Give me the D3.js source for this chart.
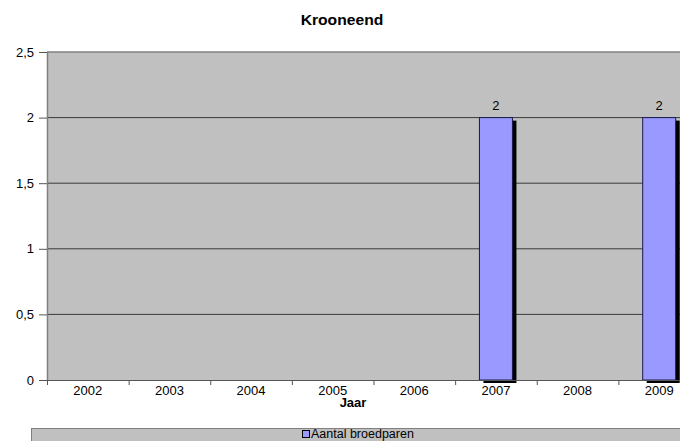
<!DOCTYPE html>
<html><head><meta charset="utf-8">
<script src="https://cdn.jsdelivr.net/npm/d3@7"></script>
<style>body{margin:0;background:#fff}svg{display:block}text{font-family:"Liberation Sans",Arial,sans-serif}</style>
</head><body>
<svg id="c" width="680" height="441"></svg>
<script>
const years = ["2002","2003","2004","2005","2006","2007","2008","2009"];
const values = [0,0,0,0,0,2,0,2];
const yTicks = [0,0.5,1,1.5,2,2.5];
const title = "Krooneend";
const xTitle = "Jaar";
const seriesName = "Aantal broedparen";

const svg = d3.select("#c");
const L = 47, T = 52, B = 380, R = 700;
const x = d3.scaleBand().domain(years).range([L, R]).paddingInner(0).paddingOuter(0);
const y = d3.scaleLinear().domain([0, 2.5]).range([B, T]);
const fmt = v => String(v).replace(".", ",");

svg.append("rect").attr("x", L).attr("y", T).attr("width", R - L).attr("height", B - T).attr("fill", "#c0c0c0");

// gridlines
svg.append("g").selectAll("line").data(yTicks.filter(d => d > 0)).join("line")
  .attr("x1", L).attr("x2", R).attr("y1", d => y(d)).attr("y2", d => y(d))
  .attr("stroke", d => d === 2.5 ? "#808080" : "#3a3a3a").attr("stroke-width", d => d === 2.5 ? 1.5 : 1);

// left axis line
svg.append("line").attr("x1", L + 0.5).attr("x2", L + 0.5).attr("y1", T).attr("y2", B).attr("stroke", "#808080").attr("stroke-width", 1.5);

// y axis
const ya = d3.axisLeft(y).tickValues(yTicks).tickFormat(fmt).tickSize(8).tickPadding(5);
const yg = svg.append("g").attr("transform", `translate(${L},0)`).call(ya);
yg.select(".domain").remove();
yg.selectAll("line").attr("stroke", "#555");
yg.selectAll("text").attr("font-size", 13).attr("fill", "#000");

// bars with shadow
const bw = 33;
const bars = svg.append("g");
values.forEach((v, i) => {
  if (v <= 0) return;
  const cx = x(years[i]) + x.bandwidth() / 2;
  bars.append("rect").attr("x", cx - bw / 2 + 4).attr("y", y(v) + 3).attr("width", bw).attr("height", y(0) - y(v)).attr("fill", "#000");
  bars.append("rect").attr("x", cx - bw / 2).attr("y", y(v)).attr("width", bw).attr("height", y(0) - y(v))
    .attr("fill", "#9999ff").attr("stroke", "#1a1a4a").attr("stroke-width", 1);
  bars.append("text").attr("x", cx).attr("y", y(v) - 8).attr("text-anchor", "middle").attr("font-size", 13).text(fmt(v));
});

// x axis
svg.append("line").attr("x1", L).attr("x2", R).attr("y1", B + 0.5).attr("y2", B + 0.5).attr("stroke", "#555");
const xg = svg.append("g");
years.forEach((yr, i) => {
  const x0 = x(yr);
  xg.append("line").attr("x1", x0 + 0.5).attr("x2", x0 + 0.5).attr("y1", B).attr("y2", B + 5).attr("stroke", "#555");
  xg.append("text").attr("x", x0 + x.bandwidth() / 2).attr("y", B + 15).attr("text-anchor", "middle").attr("font-size", 13).text(yr);
});

svg.append("text").attr("transform", "translate(342,25) scale(1.12,1)").attr("text-anchor", "middle").attr("font-size", 14).attr("font-weight", "bold").text(title);
svg.append("text").attr("x", 353).attr("y", 407).attr("text-anchor", "middle").attr("font-size", 13).attr("font-weight", "bold").text(xTitle);

// legend
svg.append("rect").attr("x", 31.5).attr("y", 428.5).attr("width", 660).attr("height", 20).attr("fill", "#c0c0c0").attr("stroke", "#808080");
svg.append("rect").attr("x", 302.5).attr("y", 430.5).attr("width", 7).attr("height", 7).attr("fill", "#9999ff").attr("stroke", "#000");
svg.append("text").attr("x", 311).attr("y", 438).attr("font-size", 12.5).text(seriesName);
</script>
</body></html>
